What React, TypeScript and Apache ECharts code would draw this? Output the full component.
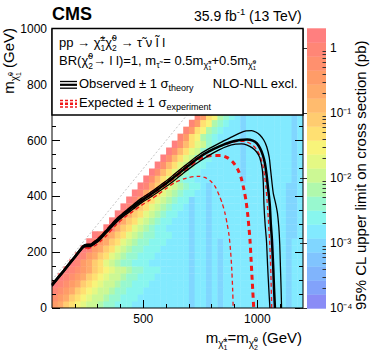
import React, { useEffect, useRef } from "react";
import * as echarts from "echarts";

const FONT = '"Liberation Sans", Arial, Helvetica, sans-serif';

// ---------- heat map: 95% CL upper limit, one band code per 25x25 GeV cell ----------
// rows from mLSP = 0 (bottom) upwards, columns from mChargino = 100 GeV; '.' = no point
const HEAT_X0 = 100;
const HEAT_CELL = 25;
const HEAT_ROWS = [
  "GFDCBA99877 66655555555 55455454555 55555455455",
  "HGFDCBA9987 76665555555 55455454555 55555455455",
  "IHGFDCBA998 77666555555 55455454555 55555455455",
  "JIHGFDCBA99 87766655555 55455454555 55555455455",
  ".JIHGFDCBA9 98776665555 55455454555 55555455455",
  "..JIHGFDCBA 99877666555 55455454555 55555455455",
  "...JIGFDCA9 87766655555 55455454555 55555455455",
  "....JIGFDCA 98776665555 55455454555 55555455455",
  ".....JIGFDC A9877666555 55455454555 55555455455",
  "......JIGFD CA987766655 55455454555 55555455455",
  ".......JIGF DCA98776665 55455455555 55555555445",
  ".........JI FDCA9876655 55455455555 55555555445",
  "..........J IFDCA987665 55455455555 55555555445",
  "........... JIFDCA98766 55455455555 55555555445",
  "........... .JIFDCA9876 65455455555 55555555445",
  "........... ..JIFDCA987 66455455555 55555555445",
  "........... ...JIFDCA98 76655455555 55555555445",
  "........... ....JIFDCA9 87665455555 55555555445",
  "........... .....JHECA9 76655555555 45555555545",
  "........... ......JHECA 97665555555 45555555545",
  "........... .......JHEC A9766555555 45555555545",
  "........... ........JHE CA976655555 45555555545",
  "........... .........JH ECA97665555 45555555545",
  "........... ..........J HECA9766555 45555555545",
  "........... ........... IGCB8765555 45555555545",
  "........... ........... .IGCB876555 45555555545",
  "........... ........... ..IGCB87655 45555555545",
  "........... ........... ...IGCB8765 45555555545",
];
const BAND_CODES = "0123456789ABCDEFGHIJ";
const BAND_COLORS = [
  "#8a8cf6", "#82a2fa", "#80b4fc", "#80c4fe", "#80d6ff",
  "#82eaff", "#88f6ee", "#98f8cf", "#b0f8ac", "#ccf894",
  "#e4f884", "#f8f47a", "#ffe072", "#ffcc70", "#ffbb6e",
  "#ffaa6a", "#ff9c68", "#ff906e", "#ff8676", "#ff7f7f",
];
const CB_LOG_MIN = -4; // 1e-4 pb
const CB_LOG_MAX = Math.log10(2); // 2 pb
const CB_STEP = (CB_LOG_MAX - CB_LOG_MIN) / BAND_COLORS.length;

// ---------- exclusion contours [m(chargino) , m(LSP)] in GeV ----------
const OBS = [[100,82],[150,132],[200,183],[237,220],[252,225],[268,225],[290,236],[310,250],[340,276],[383,314],[420,340],[456,363],[490,384],[529,405],[565,426],[603,448],[640,472],[675,495],[710,518],[749,542],[790,562],[836,580],[880,594],[924,602],[955,604],[980,600],[998,590],[1012,572],[1024,548],[1033,519],[1040,480],[1046,435],[1051,400],[1055,363],[1059,300],[1063,256],[1067,190],[1070,136],[1073,70],[1077,0]];
const OBS_UP = [[100,86],[150,136],[200,187],[237,224],[252,229],[268,229],[290,241],[310,255],[340,281],[383,320],[420,346],[456,370],[490,392],[529,413],[565,434],[603,457],[640,482],[675,505],[710,528],[749,552],[790,572],[836,592],[880,610],[920,626],[950,635],[975,636],[995,630],[1011,620],[1028,602],[1041,578],[1052,540],[1058,495],[1064,450],[1070,410],[1080,375],[1088,340],[1094,290],[1098,230],[1101,150],[1104,70],[1106,0]];
const OBS_DN = [[100,78],[150,128],[200,179],[237,216],[252,220],[268,220],[290,231],[310,244],[340,270],[383,307],[420,333],[456,355],[490,376],[529,396],[565,416],[603,437],[640,460],[675,483],[710,505],[749,527],[790,548],[830,566],[870,580],[905,587],[931,588],[955,584],[978,574],[996,560],[1010,540],[1021,500],[1026,450],[1029,370],[1034,300],[1040,240],[1045,150],[1050,70],[1055,0]];
const EXP = [[245,216],[268,224],[290,236],[310,250],[340,275],[383,313],[420,339],[456,362],[490,383],[529,404],[565,425],[603,447],[640,471],[675,493],[710,514],[740,532],[770,542],[800,547],[840,547],[870,538],[895,521],[914,497],[929,466],[941,425],[950,385],[957,340],[963,290],[968,240],[972,180],[976,120],[980,60],[984,0]];
const EXP_UP = [[248,226],[270,231],[290,243],[310,257],[340,283],[383,321],[420,347],[456,370],[490,392],[529,413],[565,434],[603,456],[640,480],[683,508],[720,530],[760,550],[800,566],[840,580],[880,591],[915,597],[945,597],[972,588],[995,570],[1012,545],[1024,512],[1032,470],[1038,430],[1043,380],[1048,320],[1053,250],[1057,180],[1060,100],[1063,0]];
const EXP_DN = [[255,212],[275,218],[295,227],[315,241],[340,261],[383,299],[420,326],[456,347],[490,367],[529,387],[565,407],[600,428],[639,450],[690,466],[741,472],[770,468],[795,455],[815,435],[832,405],[846,375],[858,340],[868,300],[876,260],[883,200],[888,136],[892,60],[894,0]];
const DIAG = [[100,100],[1000,1000]];

// ---------- ticks ----------
const X_MAJOR = [500, 1000];
const X_MINOR = [200, 300, 400, 600, 700, 800, 900, 1100];
const CB_MAJOR = [-4, -3, -2, -1, 0];
const CB_LABELS = ["10\u207b\u2074", "10\u207b\u00b3", "10\u207b\u00b2", "10\u207b\u00b9", "1"];
const CB_MINOR_MULT = [2, 3, 4, 5, 6, 7, 8, 9];

// ---------- helpers ----------
function bandOf(v: number) {
  const i = Math.floor((Math.log10(v) - CB_LOG_MIN) / CB_STEP);
  return Math.max(0, Math.min(BAND_COLORS.length - 1, i));
}
function buildHeat() {
  const out: number[][] = [];
  HEAT_ROWS.forEach((row, r) => {
    const s = row.replace(/ /g, "");
    for (let c = 0; c < s.length; c++) {
      const b = BAND_CODES.indexOf(s[c]);
      if (b < 0) continue;
      const v = Math.pow(10, CB_LOG_MIN + (b + 0.5) * CB_STEP);
      out.push([HEAT_X0 + c * HEAT_CELL, r * HEAT_CELL, v]);
    }
  });
  return out;
}

type Tok =
  | { t: string; s: number; dy?: number; bold?: boolean }
  | { sup: string; sub: string; s: number; supDy: number; subDy: number };
let mctx: CanvasRenderingContext2D | null = null;
const fontStr = (s: number, bold?: boolean) => `${bold ? "bold " : ""}${s}px ${FONT}`;
function measure(t: string, s: number, bold?: boolean) {
  if (!mctx) mctx = document.createElement("canvas").getContext("2d");
  mctx!.font = fontStr(s, bold);
  return mctx!.measureText(t).width;
}
function textLine(toks: Tok[], x: number, y: number, align: "left" | "right" | "center", rotation = 0, color = "#000") {
  const kids: any[] = [];
  let cx = 0;
  const mk = (t: string, s: number, px: number, dy: number, bold?: boolean) => ({
    type: "text",
    x: px,
    y: dy - 0.35 * s,
    z: 100,
    silent: true,
    style: { text: t, font: fontStr(s, bold), fill: color, align: "left", verticalAlign: "middle", textAlign: "left", textVerticalAlign: "middle" },
  });
  for (const tk of toks) {
    if ("t" in tk) {
      kids.push(mk(tk.t, tk.s, cx, tk.dy || 0, tk.bold));
      cx += measure(tk.t, tk.s, tk.bold);
    } else {
      kids.push(mk(tk.sup, tk.s, cx, tk.supDy));
      kids.push(mk(tk.sub, tk.s, cx, tk.subDy));
      cx += Math.max(measure(tk.sup, tk.s), measure(tk.sub, tk.s));
    }
  }
  const shift = align === "right" ? -cx : align === "center" ? -cx / 2 : 0;
  kids.forEach((k) => (k.x += shift));
  return { type: "group", x, y, rotation, z: 100, children: kids };
}

const CHI = "\u03c7\u0303";
const plainNum = (v: number) => String(v);

export default function App() {
  const ref = useRef<HTMLDivElement>(null);
  useEffect(() => {
    document.body.style.margin = "0";
    if (!ref.current) return;
    const chart = echarts.init(ref.current, undefined, { renderer: "svg" });
    const heat = buildHeat();
    const cbMinor: number[] = [];
    for (let k = -4; k < 0; k++) CB_MINOR_MULT.forEach((m) => cbMinor.push(Math.log10(m) + k));

    const axisCommon = {
      axisLine: { show: false },
      splitLine: { show: false },
      z: 5,
    };
    const lineSeries = (data: number[][], color: string, width: number, dash: any, z: number) => ({
      type: "line",
      data,
      xAxisIndex: 0,
      yAxisIndex: 0,
      showSymbol: false,
      symbol: "none",
      smooth: 0.25,
      silent: true,
      z,
      lineStyle: { color, width, type: dash },
    });

    const graphics: any[] = [
      // plot frame
      { type: "rect", z: 90, silent: true, shape: { x: 52, y: 29, width: 251, height: 279 }, style: { fill: "none", stroke: "#000", lineWidth: 1 } },
      // legend box
      { type: "rect", z: 95, silent: true, shape: { x: 52, y: 28.5, width: 251, height: 86.5 }, style: { fill: "#fff", stroke: "#000", lineWidth: 1.5 } },
      textLine([{ t: "CMS", s: 18, bold: true }], 52, 20.5, "left"),
      textLine([{ t: "35.9 fb", s: 14 }, { t: "-1", s: 9.5, dy: -6 }, { t: " (13 TeV)", s: 14 }], 302, 20.5, "right"),
      textLine(
        [{ t: "pp \u2192 ", s: 13 }, { t: CHI, s: 13 }, { sup: "\u00b1", sub: "1", s: 8.5, supDy: -6, subDy: 4 }, { t: CHI, s: 13 }, { sup: "0", sub: "2", s: 8.5, supDy: -6, subDy: 4 }, { t: " \u2192 \u03c4\u0303", s: 13 }, { t: " \u03bd ", s: 13 }, { t: "l\u0303 l", s: 13 }],
        59, 47, "left"
      ),
      textLine(
        [{ t: "BR(", s: 13 }, { t: CHI, s: 13 }, { sup: "0", sub: "2", s: 8.5, supDy: -6, subDy: 4 }, { t: "\u2192 l l)=1, m", s: 13 }, { t: "\u03c4\u0303", s: 9, dy: 3 }, { t: " = 0.5m", s: 13 }, { t: CHI, s: 9, dy: 3 }, { sup: "\u00b1", sub: "1", s: 6, supDy: -1, subDy: 5 }, { t: "+0.5m", s: 13 }, { t: CHI, s: 9, dy: 3 }, { sup: "0", sub: "1", s: 6, supDy: -1, subDy: 5 }],
        59, 65, "left"
      ),
      // observed legend icon
      { type: "line", z: 100, silent: true, shape: { x1: 60, y1: 81.5, x2: 77, y2: 81.5 }, style: { stroke: "#000", lineWidth: 1.3 } },
      { type: "line", z: 100, silent: true, shape: { x1: 60, y1: 84.8, x2: 77, y2: 84.8 }, style: { stroke: "#000", lineWidth: 2.2 } },
      { type: "line", z: 100, silent: true, shape: { x1: 60, y1: 88.2, x2: 77, y2: 88.2 }, style: { stroke: "#000", lineWidth: 1.3 } },
      textLine([{ t: "Observed \u00b1 1 \u03c3", s: 13 }, { t: "theory", s: 9, dy: 3 }], 79, 88, "left"),
      textLine([{ t: "NLO-NLL excl.", s: 13 }], 298, 88, "right"),
      // expected legend icon
      { type: "line", z: 100, silent: true, shape: { x1: 60, y1: 100.5, x2: 77, y2: 100.5 }, style: { stroke: "#f01818", lineWidth: 1.3, lineDash: [3, 2] } },
      { type: "line", z: 100, silent: true, shape: { x1: 60, y1: 103.8, x2: 77, y2: 103.8 }, style: { stroke: "#f01818", lineWidth: 2.5, lineDash: [3, 2] } },
      { type: "line", z: 100, silent: true, shape: { x1: 60, y1: 107, x2: 77, y2: 107 }, style: { stroke: "#f01818", lineWidth: 1.3, lineDash: [3, 2] } },
      textLine([{ t: "Expected \u00b1 1 \u03c3", s: 13 }, { t: "experiment", s: 9, dy: 3 }], 79, 107, "left"),
      // axis titles
      textLine(
        [{ t: "m", s: 15 }, { t: CHI, s: 10, dy: 4 }, { sup: "\u00b1", sub: "1", s: 7, supDy: -1, subDy: 7 }, { t: "=m", s: 15 }, { t: CHI, s: 10, dy: 4 }, { sup: "0", sub: "2", s: 7, supDy: -1, subDy: 7 }, { t: " (GeV)", s: 15 }],
        302, 343, "right"
      ),
      textLine(
        [{ t: "m", s: 15 }, { t: CHI, s: 10, dy: 4 }, { sup: "0", sub: "1", s: 7, supDy: -1, subDy: 7 }, { t: " (GeV)", s: 15 }],
        13.5, 28, "right", Math.PI / 2
      ),
      textLine([{ t: "95% CL upper limit on cross section (pb)", s: 15 }], 366, 175, "center", Math.PI / 2),
    ];

    const option: any = {
      animation: false,
      textStyle: { fontFamily: FONT },
      grid: [
        { left: 52, top: 29, width: 251, height: 279 },
        { left: 307, top: 28.3, width: 19, height: 280 },
      ],
      xAxis: [
        {
          ...axisCommon, gridIndex: 0, type: "value", position: "bottom", min: 100, max: 1200,
          axisTick: { inside: true, length: 8, customValues: X_MAJOR, lineStyle: { color: "#000" } },
          axisLabel: { customValues: X_MAJOR, margin: 5, fontSize: 12, color: "#000", fontFamily: FONT, formatter: plainNum },
        },
        {
          ...axisCommon, gridIndex: 0, type: "value", position: "bottom", min: 100, max: 1200,
          axisTick: { inside: true, length: 4, customValues: X_MINOR, lineStyle: { color: "#000" } },
          axisLabel: { show: false },
        },
        { gridIndex: 1, type: "value", min: 0, max: 1, show: false },
      ],
      yAxis: [
        {
          ...axisCommon, gridIndex: 0, type: "value", position: "left", min: 0, max: 1000, interval: 200,
          axisTick: { inside: true, length: 8, lineStyle: { color: "#000" } },
          minorTick: { show: true, splitNumber: 4, length: 4, lineStyle: { color: "#000" } },
          minorSplitLine: { show: false },
          axisLabel: { margin: 5, fontSize: 12, color: "#000", fontFamily: FONT, formatter: plainNum },
        },
        {
          ...axisCommon, gridIndex: 0, type: "value", position: "right", min: 0, max: 1000, interval: 200,
          axisTick: { inside: true, length: 8, lineStyle: { color: "#000" } },
          minorTick: { show: true, splitNumber: 4, length: 4, lineStyle: { color: "#000" } },
          minorSplitLine: { show: false },
          axisLabel: { show: false },
        },
        {
          ...axisCommon, gridIndex: 1, type: "value", position: "right", min: CB_LOG_MIN, max: CB_LOG_MAX,
          axisTick: { inside: true, length: 7, customValues: CB_MAJOR, lineStyle: { color: "#333" } },
          axisLabel: {
            customValues: CB_MAJOR, margin: 4, fontSize: 12, color: "#000", fontFamily: FONT,
            formatter: (v: number) => CB_LABELS[CB_MAJOR.indexOf(Math.round(v))] ?? "",
          },
        },
        {
          ...axisCommon, gridIndex: 1, type: "value", position: "right", min: CB_LOG_MIN, max: CB_LOG_MAX,
          axisTick: { inside: true, length: 3.5, customValues: cbMinor, lineStyle: { color: "#333" } },
          axisLabel: { show: false },
        },
      ],
      series: [
        {
          type: "custom",
          xAxisIndex: 0,
          yAxisIndex: 0,
          clip: true,
          silent: true,
          z: 1,
          data: heat,
          renderItem: (params: any, api: any) => {
            const x = api.value(0), y = api.value(1), v = api.value(2);
            const a = api.coord([x, y + HEAT_CELL]);
            const b = api.coord([x + HEAT_CELL, y]);
            return {
              type: "rect",
              shape: { x: a[0], y: a[1], width: b[0] - a[0] + 0.4, height: b[1] - a[1] + 0.4 },
              style: { fill: BAND_COLORS[bandOf(v)] },
            };
          },
        },
        {
          type: "custom",
          xAxisIndex: 2,
          yAxisIndex: 2,
          silent: true,
          z: 1,
          data: BAND_COLORS.map((_, i) => [0.5, CB_LOG_MIN + i * CB_STEP, CB_LOG_MIN + (i + 1) * CB_STEP, i]),
          encode: { x: 0, y: [1, 2] },
          renderItem: (params: any, api: any) => {
            const a = api.coord([0, api.value(2)]);
            const b = api.coord([1, api.value(1)]);
            return {
              type: "rect",
              shape: { x: a[0], y: a[1], width: b[0] - a[0], height: b[1] - a[1] + 0.4 },
              style: { fill: BAND_COLORS[api.value(3)] },
            };
          },
        },
        lineSeries(DIAG, "#c4c4c4", 1, [2, 2], 2),
        lineSeries(EXP_UP, "#f01818", 1.3, [4, 3], 3),
        lineSeries(EXP_DN, "#f01818", 1.3, [4, 3], 3),
        lineSeries(EXP, "#f01818", 3, [5, 4], 3),
        lineSeries(OBS_UP, "#000", 1.3, "solid", 4),
        lineSeries(OBS_DN, "#000", 1.3, "solid", 4),
        lineSeries(OBS, "#000", 2.5, "solid", 4),
      ],
      graphic: { elements: graphics },
    };
    chart.setOption(option);
    return () => chart.dispose();
  }, []);
  return <div ref={ref} style={{ width: 374, height: 359 }} />;
}
